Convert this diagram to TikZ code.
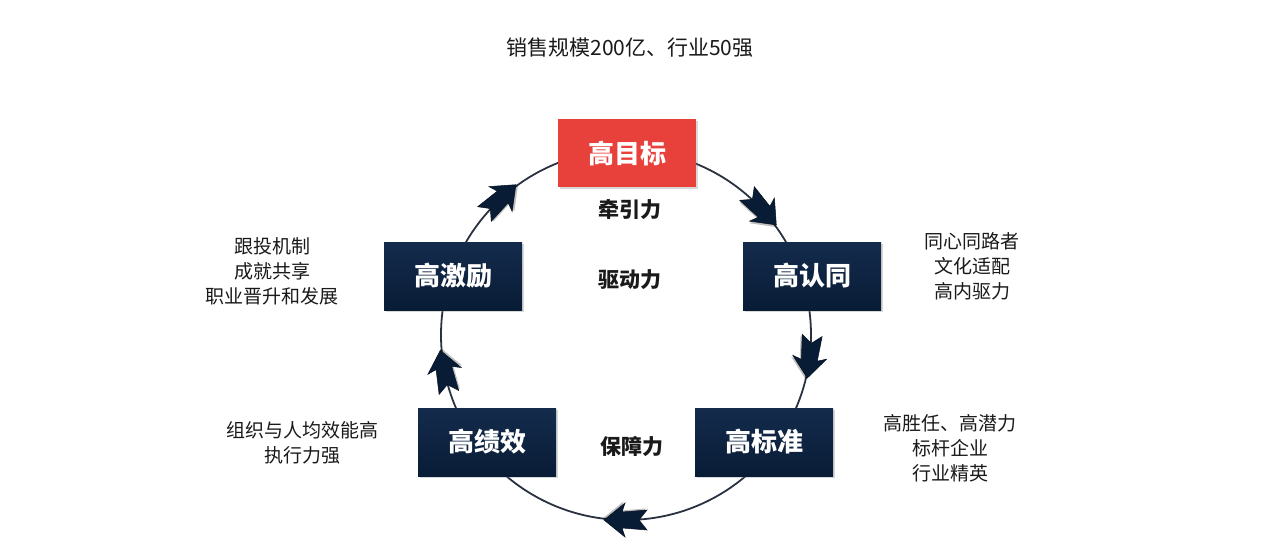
\documentclass[tikz,border=0pt]{standalone}
\usepackage{fontspec}
\setmainfont{Noto Sans CJK SC}
\usetikzlibrary{shadows,calc}
\definecolor{navy}{HTML}{091C36}
\definecolor{navytop}{HTML}{142B4C}
\definecolor{redbox}{HTML}{E8413B}
\definecolor{ringcol}{HTML}{2A3140}
\definecolor{txt}{HTML}{1A1A1A}
\tikzset{
  box/.style={minimum width=138pt, minimum height=68pt, inner sep=0pt,
    text=white, font=\fontsize{26}{28}\selectfont\bfseries,
    drop shadow={opacity=0.3, shadow xshift=2pt, shadow yshift=-2pt}},
  darkbox/.style={box, top color=navytop, bottom color=navy},
  redbx/.style={box, fill=redbox},
  force/.style={font=\fontsize{21}{24}\selectfont\bfseries, text=txt},
  note/.style={font=\fontsize{19}{25}\selectfont, text=txt, align=center},
  ring/.style={draw=ringcol, line width=1.8pt},
  cheva/.style={fill=navy, draw=navy!60!black, line width=0.5pt, line join=miter}
}
\newcommand{\chevarrow}[2]{%
  \begin{scope}[shift={(#1)}, rotate=#2]
    \fill[black, opacity=0.25, shift={(1.5,1.5)}] (22,0) -- (1,-17) -- (4,-8) -- (-21,-10) -- (-13,0) -- (-21,10) -- (4,8) -- (1,17) -- cycle;
    \filldraw[cheva] (22,0) -- (1,-17) -- (4,-8) -- (-21,-10) -- (-13,0) -- (-21,10) -- (4,8) -- (1,17) -- cycle;
  \end{scope}}
\begin{document}
\begin{tikzpicture}[x=1pt, y=-1pt]
\useasboundingbox (0,0) rectangle (1280,544);
\fill[white] (0,0) rectangle (1280,544);
\coordinate (O) at (626,335);
\draw[ring] (O) circle[radius=185];
% arrows (visual angle v on ring, pointing clockwise)
\coordinate (a1) at ($(O)+(-43:185)$);
\coordinate (a2) at ($(O)+(6.6:185)$);
\coordinate (a3) at ($(O)+(90:185)$);
\coordinate (a4) at ($(O)+(-191.5:185)$);
\coordinate (a5) at ($(O)+(-133:185)$);
\chevarrow{a1}{-47}
\chevarrow{a2}{-96.6}
\chevarrow{a3}{180}
\chevarrow{a4}{101.5}
\chevarrow{a5}{43}
% boxes
\node[redbx] (goal) at (627,153) {高目标};
\node[darkbox] (ident) at (812,276) {高认同};
\node[darkbox] (std) at (764,442) {高标准};
\node[darkbox] (perf) at (487,442) {高绩效};
\node[darkbox] (inc) at (453,276) {高激励};
% forces
\node[force] (f1) at (630,210) {牵引力};
\node[force] (f2) at (630,280) {驱动力};
\node[force] (f3) at (632,446) {保障力};
% title
\node[font=\fontsize{21}{24}\selectfont, text=txt] (title) at (630,48) {销售规模200亿、行业50强};
% notes
\node[note] (n1) at (972,266) {同心同路者\\文化适配\\高内驱力};
\node[note] (n2) at (950,448) {高胜任、高潜力\\标杆企业\\行业精英};
\node[note] (n3) at (302,443) {组织与人均效能高\\执行力强};
\node[note] (n4) at (272,271) {跟投机制\\成就共享\\职业晋升和发展};
\end{tikzpicture}
\end{document}
